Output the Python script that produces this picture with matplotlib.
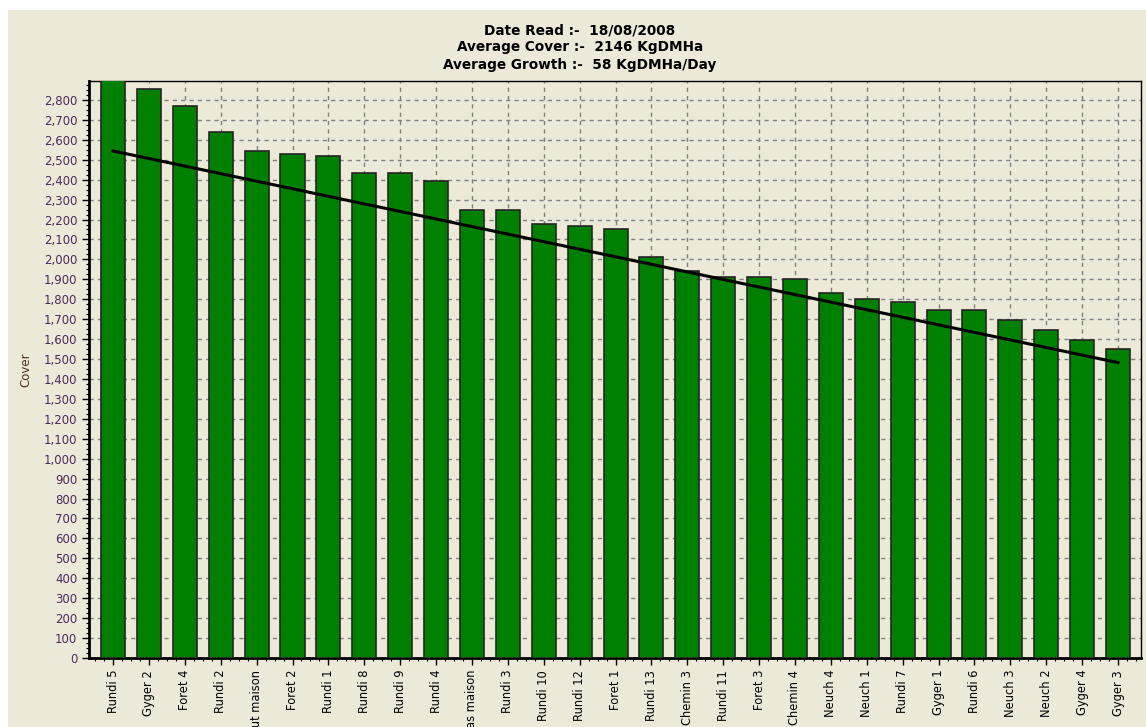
import numpy as np
import matplotlib
matplotlib.use("Agg")
import matplotlib.pyplot as plt
from matplotlib.patches import Rectangle
from matplotlib.ticker import FuncFormatter, MultipleLocator, AutoMinorLocator

paddocks = ["Rundi 5", "Gyger 2", "Foret 4", "Rundi 2", "Haut maison", "Foret 2",
            "Rundi 1", "Rundi 8", "Rundi 9", "Rundi 4", "Bas maison", "Rundi 3",
            "Rundi 10", "Rundi 12", "Foret 1", "Rundi 13", "Chemin 3", "Rundi 11",
            "Foret 3", "Chemin 4", "Neuch 4", "Neuch 1", "Rundi 7", "Gyger 1",
            "Rundi 6", "Neuch 3", "Neuch 2", "Gyger 4", "Gyger 3"]
cover = [2920, 2855, 2770, 2639, 2545, 2529, 2517, 2433, 2433, 2393, 2248, 2248,
         2178, 2168, 2152, 2012, 1942, 1912, 1912, 1900, 1830, 1800, 1788, 1746,
         1746, 1694, 1646, 1596, 1552]
trend_ends = [2544, 1482]
title_lines = ["Date Read :-  18/08/2008",
               "Average Cover :-  2146 KgDMHa",
               "Average Growth :-  58 KgDMHa/Day"]

plt.rcParams['font.family'] = ['DejaVu Sans']
bg = '#ECE9D8'

fig = plt.figure(figsize=(11.46, 7.27), dpi=100)
fig.patch.set_facecolor('white')
fig.patches.append(Rectangle((8 / 1146, 0), 1, 1 - 10 / 727, transform=fig.transFigure,
                             facecolor=bg, edgecolor='none', zorder=-10))

ax = fig.add_axes([89 / 1146, 69 / 727, 1052 / 1146, 577 / 727])
ax.set_facecolor(bg)

x = np.arange(len(paddocks))
ax.bar(x, cover, width=0.67, color='#008000', edgecolor='#252525', linewidth=1.2, zorder=3)
ax.plot([x[0], x[-1]], trend_ends, color='black', linewidth=2.2, zorder=4)

ax.set_xlim(-0.67, len(paddocks) - 1 + 0.64)
ax.set_ylim(0, 2895)

ax.yaxis.set_major_locator(MultipleLocator(100))
ax.yaxis.set_minor_locator(AutoMinorLocator(4))
ax.yaxis.set_major_formatter(FuncFormatter(lambda v, p: f"{int(v):,}"))
ax.set_xticks(x)
ax.set_xticklabels(paddocks, rotation=90, va='top', ha='center')
ax.xaxis.set_minor_locator(AutoMinorLocator(4))

ax.grid(True, which='major', color='#808080', linestyle=(0, (3, 3)), linewidth=1, zorder=0)
ax.set_axisbelow(True)

ax.tick_params(axis='y', which='major', labelsize=8.5, labelcolor='#4a2a5a', length=5, width=1)
ax.tick_params(axis='x', which='major', labelsize=8.3, labelcolor='black', length=5, width=1)
ax.tick_params(which='minor', length=2.5, width=0.8)

for side in ['left', 'bottom']:
    ax.spines[side].set_linewidth(2)
for side in ['top', 'right']:
    ax.spines[side].set_linewidth(1)

ax.set_ylabel("Cover", fontsize=8.5, color='#4a3020', labelpad=8)

for i, line in enumerate(title_lines):
    fig.text(580 / 1146, 1 - (30 + 17.5 * i) / 727, line, ha='center', va='center',
             fontsize=9.8, fontweight='bold', color='#000000')

fig.savefig("out.png", dpi=100, facecolor=fig.get_facecolor())
